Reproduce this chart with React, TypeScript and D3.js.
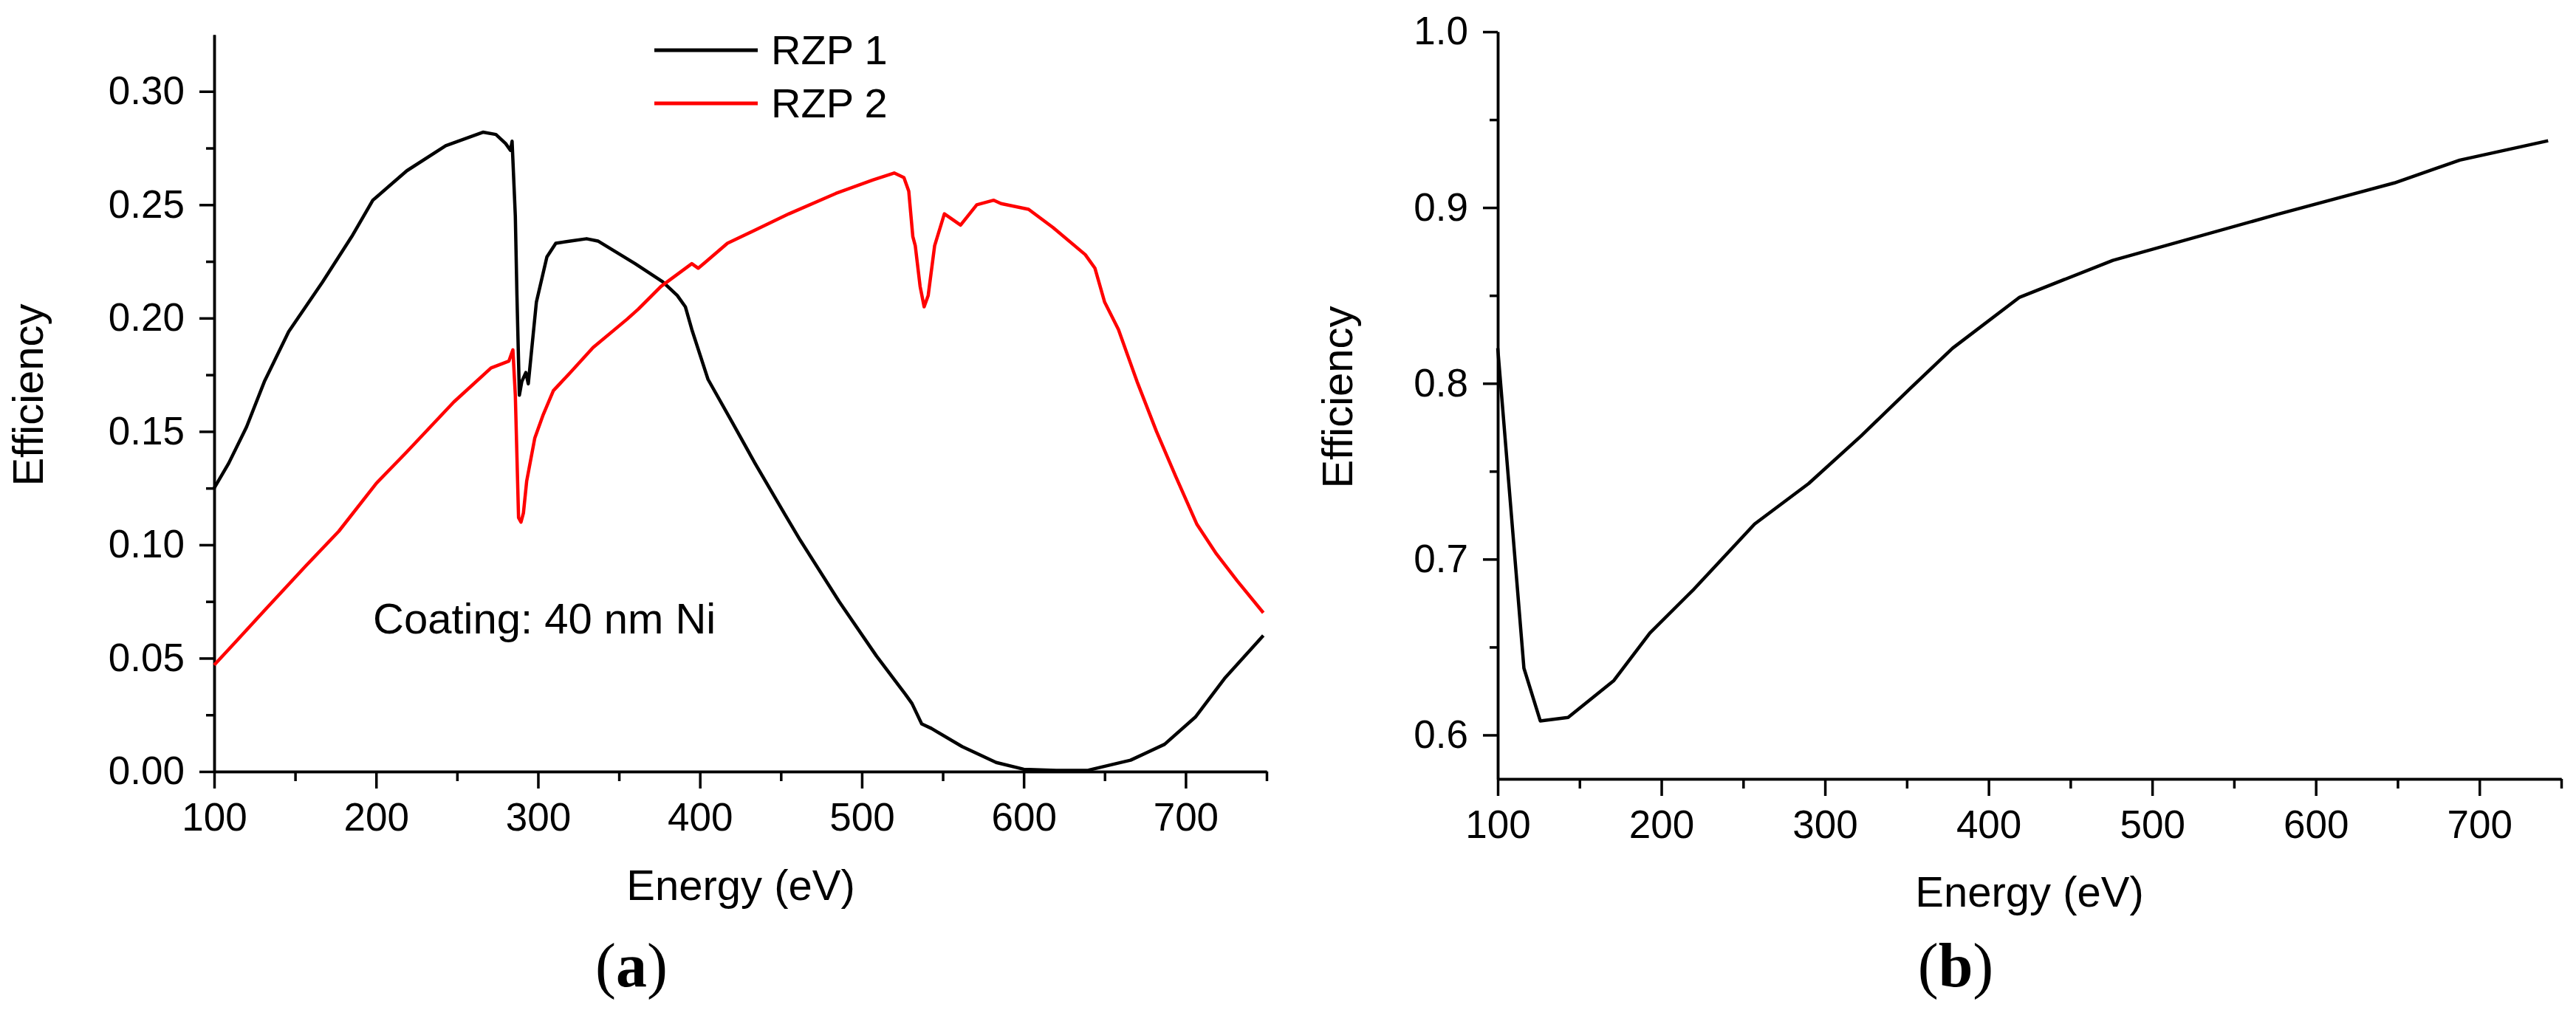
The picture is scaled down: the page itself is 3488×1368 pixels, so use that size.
import { useEffect, useRef } from 'react'
import * as d3 from 'd3'

// RZP 1 / RZP 2 efficiency vs. energy, panel (a)
const rzp1Energy = [
  100, 109, 120, 131, 146, 167, 185, 198, 219, 243, 266, 274, 280, 283, 284, 286, 287, 288.5, 290,
  292.5, 294, 299, 305.5, 311, 320, 330, 337, 360, 377, 386, 391, 395, 400, 405, 420, 434, 452,
  462, 486, 509, 527, 531, 537, 543, 562, 583, 600, 620, 640, 666, 687, 706, 724, 748,
]
const rzp1Eff = [
  0.125, 0.136, 0.152, 0.172, 0.194, 0.216, 0.236, 0.252, 0.265, 0.276, 0.282, 0.281, 0.277, 0.274,
  0.278, 0.245, 0.21, 0.166, 0.172, 0.176, 0.171, 0.207, 0.227, 0.233, 0.234, 0.235, 0.234, 0.224,
  0.216, 0.21, 0.205, 0.195, 0.184, 0.173, 0.154, 0.136, 0.114, 0.102, 0.075, 0.051, 0.034, 0.03,
  0.021, 0.019, 0.011, 0.004, 0.001, 0.0005, 0.0006, 0.005, 0.012, 0.024, 0.041, 0.06,
]
const rzp2Energy = [
  100, 113, 131, 157, 177, 200, 219, 248, 271, 282, 284.5, 286, 288, 289.5, 291, 293, 298, 303,
  309.5, 320, 334, 355, 362, 376, 395, 399, 404, 417, 455, 484, 507, 520, 526, 529, 531.5, 533,
  536, 538.5, 541, 545, 551, 561, 571, 581.5, 586, 603, 618, 638, 644, 650, 658.5, 670, 682, 694,
  707, 719, 732, 748,
]
const rzp2Eff = [
  0.047, 0.057, 0.071, 0.091, 0.106, 0.127, 0.141, 0.163, 0.178, 0.181, 0.186, 0.166, 0.112, 0.11,
  0.114, 0.128, 0.147, 0.157, 0.168, 0.176, 0.187, 0.1995, 0.204, 0.214, 0.224, 0.222, 0.225, 0.233,
  0.246, 0.255, 0.261, 0.264, 0.262, 0.256, 0.236, 0.232, 0.214, 0.205, 0.21, 0.232, 0.246, 0.241,
  0.25, 0.252, 0.2505, 0.248, 0.24, 0.228, 0.222, 0.207, 0.195, 0.172, 0.15, 0.13, 0.109, 0.096,
  0.084, 0.07,
]

// panel (b)
const bEnergy = [100, 116, 126, 143, 171, 193, 220, 257, 290, 322, 352, 378, 419, 476, 576, 648, 688, 742]
const bEff = [
  0.82, 0.638, 0.608, 0.61, 0.631, 0.658, 0.683, 0.72, 0.743, 0.77, 0.797, 0.82, 0.849, 0.87, 0.896,
  0.914, 0.927, 0.938,
]

const xMajor = [100, 200, 300, 400, 500, 600, 700]
const xMinor = [150, 250, 350, 450, 550, 650, 750]
const yMajorA = [0, 0.05, 0.1, 0.15, 0.2, 0.25, 0.3]
const yMinorA = [0.025, 0.075, 0.125, 0.175, 0.225, 0.275]
const yMajorB = [0.6, 0.7, 0.8, 0.9, 1.0]
const yMinorB = [0.65, 0.75, 0.85, 0.95]

const seriesNames = ['RZP 1', 'RZP 2']
const seriesColors = ['#000000', '#ff0000']

const W = 3488
const H = 1368
const SANS = '"Liberation Sans", Arial, sans-serif'

type Scale = d3.ScaleLinear<number, number>

function drawAxes(
  g: d3.Selection<SVGGElement, unknown, null, undefined>,
  x: Scale,
  y: Scale,
  yMajor: number[],
  yMinor: number[],
  fmt: string,
) {
  const y0 = y.range()[0]
  const x0 = x.range()[0]

  const style = (sel: d3.Selection<SVGGElement, unknown, null, undefined>) => {
    sel.selectAll('path, line').attr('stroke', '#000').attr('stroke-width', 3.5)
    sel.selectAll('text').attr('font-family', SANS).attr('font-size', 53).attr('fill', '#000')
  }

  g.append('g')
    .attr('transform', `translate(0,${y0})`)
    .call(d3.axisBottom(x).tickValues(xMinor).tickSize(13).tickSizeOuter(0).tickFormat(() => ''))
    .call(style)
  g.append('g')
    .attr('transform', `translate(0,${y0})`)
    .call(d3.axisBottom(x).tickValues(xMajor).tickSize(23).tickSizeOuter(0).tickPadding(19))
    .call(style)

  g.append('g')
    .attr('transform', `translate(${x0},0)`)
    .call(d3.axisLeft(y).tickValues(yMinor).tickSize(11).tickSizeOuter(0).tickFormat(() => ''))
    .call(style)
  g.append('g')
    .attr('transform', `translate(${x0},0)`)
    .call(d3.axisLeft(y).tickValues(yMajor).tickSize(20).tickSizeOuter(0).tickPadding(20).tickFormat(d3.format(fmt)))
    .call(style)
}

export default function App() {
  const svgRef = useRef<SVGSVGElement>(null)

  useEffect(() => {
    if (!svgRef.current) return
    const svg = d3.select(svgRef.current)
    svg.selectAll('*').remove()

    const xA = d3.scaleLinear().domain([100, 750]).range([290, 1715])
    const yA = d3.scaleLinear().domain([0, 0.325]).range([1045, 47])
    const xB = d3.scaleLinear().domain([100, 750]).range([2028, 3468])
    const yB = d3.scaleLinear().domain([0.575, 1.0]).range([1055, 43])

    // panel (a)
    const ga = svg.append('g')
    drawAxes(ga, xA, yA, yMajorA, yMinorA, '.2f')

    const lineA = d3.line<[number, number]>().x(d => xA(d[0])).y(d => yA(d[1]))
    const seriesA = [
      d3.zip(rzp1Energy, rzp1Eff) as [number, number][],
      d3.zip(rzp2Energy, rzp2Eff) as [number, number][],
    ]
    seriesA.forEach((pts, i) => {
      ga.append('path')
        .attr('d', lineA(pts))
        .attr('fill', 'none')
        .attr('stroke', seriesColors[i])
        .attr('stroke-width', 4.5)
        .attr('stroke-linejoin', 'round')
    })

    // legend
    seriesNames.forEach((name, i) => {
      const ly = 68 + i * 72
      ga.append('line')
        .attr('x1', 886).attr('x2', 1026)
        .attr('y1', ly).attr('y2', ly)
        .attr('stroke', seriesColors[i])
        .attr('stroke-width', 5)
      ga.append('text')
        .attr('x', 1044).attr('y', ly + 19)
        .attr('font-family', SANS).attr('font-size', 56)
        .text(name)
    })

    ga.append('text')
      .attr('x', 505).attr('y', 858)
      .attr('font-family', SANS).attr('font-size', 58)
      .text('Coating: 40 nm Ni')

    ga.append('text')
      .attr('x', 1003).attr('y', 1219)
      .attr('text-anchor', 'middle')
      .attr('font-family', SANS).attr('font-size', 58)
      .text('Energy (eV)')
    ga.append('text')
      .attr('transform', 'translate(58,535) rotate(-90)')
      .attr('text-anchor', 'middle')
      .attr('font-family', SANS).attr('font-size', 58)
      .text('Efficiency')

    // panel (b)
    const gb = svg.append('g')
    drawAxes(gb, xB, yB, yMajorB, yMinorB, '.1f')

    const lineB = d3.line<[number, number]>().x(d => xB(d[0])).y(d => yB(d[1]))
    gb.append('path')
      .attr('d', lineB(d3.zip(bEnergy, bEff) as [number, number][]))
      .attr('fill', 'none')
      .attr('stroke', '#000')
      .attr('stroke-width', 4.5)
      .attr('stroke-linejoin', 'round')

    gb.append('text')
      .attr('x', 2748).attr('y', 1228)
      .attr('text-anchor', 'middle')
      .attr('font-family', SANS).attr('font-size', 58)
      .text('Energy (eV)')
    gb.append('text')
      .attr('transform', 'translate(1831,538) rotate(-90)')
      .attr('text-anchor', 'middle')
      .attr('font-family', SANS).attr('font-size', 58)
      .text('Efficiency')

    // panel labels
    const labels = [
      { letter: 'a', cx: 855 },
      { letter: 'b', cx: 2648 },
    ]
    labels.forEach(l => {
      const t = svg.append('text')
        .attr('x', l.cx).attr('y', 1336)
        .attr('text-anchor', 'middle')
        .attr('font-family', '"Liberation Serif", "Times New Roman", serif')
        .attr('font-size', 84)
      t.append('tspan').text('(')
      t.append('tspan').attr('font-weight', 'bold').text(l.letter)
      t.append('tspan').text(')')
    })
  }, [])

  return (
    <svg
      ref={svgRef}
      width={W}
      height={H}
      style={{ position: 'absolute', left: 0, top: 0, background: '#fff' }}
    />
  )
}
